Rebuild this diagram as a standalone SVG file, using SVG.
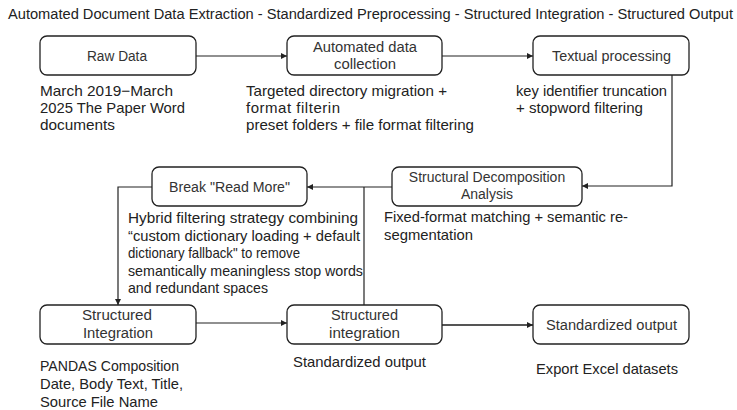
<svg xmlns="http://www.w3.org/2000/svg" width="737" height="410" viewBox="0 0 737 410">
<defs>
<style>
text{font-family:"Liberation Sans",Arial,sans-serif;fill:#222}
.title{font-size:14px}
.lbl{font-size:14px;text-anchor:middle;fill:#333}
.note{font-size:15px}
.box{fill:#fff;stroke:#222;stroke-width:1.3}
.conn{fill:none;stroke:#222;stroke-width:1.2}
.thick{stroke:#555;stroke-width:2}
</style>
<marker id="arr" viewBox="0 0 10 10" refX="10" refY="5" markerWidth="6" markerHeight="6" markerUnits="userSpaceOnUse" orient="auto">
<path d="M0,0 L10,5 L0,10 z" fill="#222"/>
</marker>
</defs>
<rect width="737" height="410" fill="#fff"/>
<text class="title" x="8" y="19" textLength="725" lengthAdjust="spacingAndGlyphs">Automated Document Data Extraction - Standardized Preprocessing - Structured Integration - Structured Output</text>

<g id="connectors">
<path class="conn" d="M196,56 H287" marker-end="url(#arr)"/>
<path class="conn" d="M442,56 H533" marker-end="url(#arr)"/>
<path class="conn" d="M672,75 V186 H582" marker-end="url(#arr)"/>
<path class="conn" d="M392,187 H307" marker-end="url(#arr)"/>
<path class="conn" d="M152,187 H118 V305" marker-end="url(#arr)"/>
<path class="conn" d="M364,187 V305"/>
<path class="conn" d="M196,323 H287" marker-end="url(#arr)"/>
<path class="conn thick" d="M442,325 H533" marker-end="url(#arr)"/>
</g>

<g id="raw-data">
<rect class="box" x="40" y="36" width="156" height="39" rx="7"/>
<text class="lbl" x="117" y="61" textLength="60" lengthAdjust="spacingAndGlyphs">Raw Data</text>
<text class="note" x="40" y="96" textLength="133" lengthAdjust="spacingAndGlyphs">March 2019−March</text>
<text class="note" x="40" y="113" textLength="145" lengthAdjust="spacingAndGlyphs">2025 The Paper Word</text>
<text class="note" x="40" y="130" textLength="75" lengthAdjust="spacingAndGlyphs">documents</text>
</g>

<g id="automated-collection">
<rect class="box" x="287" y="36" width="155" height="39" rx="7"/>
<text class="lbl" x="365" y="52" textLength="104" lengthAdjust="spacingAndGlyphs">Automated data</text>
<text class="lbl" x="365" y="69" textLength="62" lengthAdjust="spacingAndGlyphs">collection</text>
<text class="note" x="246" y="96" textLength="201" lengthAdjust="spacingAndGlyphs">Targeted directory migration +</text>
<text class="note" x="246" y="113" textLength="94" lengthAdjust="spacing">format filterin</text>
<text class="note" x="246" y="130" textLength="228" lengthAdjust="spacingAndGlyphs">preset folders + file format filtering</text>
</g>

<g id="textual-processing">
<rect class="box" x="533" y="36" width="156" height="39" rx="7"/>
<text class="lbl" x="611.5" y="61" textLength="119" lengthAdjust="spacingAndGlyphs">Textual processing</text>
<text class="note" x="516" y="96" textLength="151" lengthAdjust="spacingAndGlyphs">key identifier truncation</text>
<text class="note" x="516" y="113" textLength="127" lengthAdjust="spacingAndGlyphs">+ stopword filtering</text>
</g>

<g id="structural-decomposition">
<rect class="box" x="392" y="167" width="190" height="39" rx="7"/>
<text class="lbl" x="487" y="182">Structural Decomposition</text>
<text class="lbl" x="487" y="199">Analysis</text>
<text class="note" x="384" y="222" textLength="244" lengthAdjust="spacingAndGlyphs">Fixed-format matching + semantic re-</text>
<text class="note" x="384" y="240" textLength="89" lengthAdjust="spacingAndGlyphs">segmentation</text>
</g>

<g id="break-read-more">
<rect class="box" x="152" y="167" width="155" height="39" rx="7"/>
<text class="lbl" x="229.5" y="192" textLength="121" lengthAdjust="spacingAndGlyphs">Break "Read More"</text>
<text class="note" x="128" y="223" textLength="230" lengthAdjust="spacingAndGlyphs">Hybrid filtering strategy combining</text>
<text class="note" x="128" y="240.5" textLength="232" lengthAdjust="spacingAndGlyphs">“custom dictionary loading + default</text>
<text class="note" x="128" y="258" textLength="172" lengthAdjust="spacingAndGlyphs">dictionary fallback" to remove</text>
<text class="note" x="128" y="275.5" textLength="235" lengthAdjust="spacingAndGlyphs">semantically meaningless stop words</text>
<text class="note" x="128" y="293" textLength="140" lengthAdjust="spacingAndGlyphs">and redundant spaces</text>
</g>

<g id="structured-integration-1">
<rect class="box" x="40" y="305" width="156" height="39" rx="7"/>
<text class="lbl" x="117" y="320" textLength="70" lengthAdjust="spacingAndGlyphs">Structured</text>
<text class="lbl" x="118" y="338" textLength="70" lengthAdjust="spacingAndGlyphs">Integration</text>
<text class="note" x="40" y="371" textLength="139" lengthAdjust="spacingAndGlyphs">PANDAS Composition</text>
<text class="note" x="40" y="389" textLength="143" lengthAdjust="spacingAndGlyphs">Date, Body Text, Title,</text>
<text class="note" x="40" y="407" textLength="118" lengthAdjust="spacingAndGlyphs">Source File Name</text>
</g>

<g id="structured-integration-2">
<rect class="box" x="287" y="305" width="155" height="39" rx="7"/>
<text class="lbl" x="364.5" y="320" textLength="67" lengthAdjust="spacingAndGlyphs">Structured</text>
<text class="lbl" x="364.5" y="338" textLength="71" lengthAdjust="spacingAndGlyphs">integration</text>
<text class="note" x="293" y="367" textLength="133" lengthAdjust="spacingAndGlyphs">Standardized output</text>
</g>

<g id="standardized-output">
<rect class="box" x="533" y="305" width="156" height="39" rx="7"/>
<text class="lbl" x="611.5" y="330" textLength="131" lengthAdjust="spacingAndGlyphs">Standardized output</text>
<text class="note" x="536" y="374" textLength="142" lengthAdjust="spacingAndGlyphs">Export Excel datasets</text>
</g>
</svg>
